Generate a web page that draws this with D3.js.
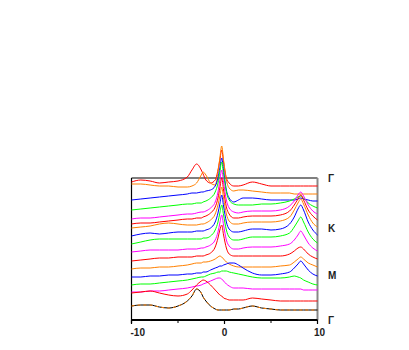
<!DOCTYPE html>
<html>
<head>
<meta charset="utf-8">
<script src="https://cdn.jsdelivr.net/npm/d3@7"></script>
<style>
  body { margin: 0; background: #fff; }
  svg { display: block; font-family: "Liberation Sans", Arial, sans-serif; }
</style>
</head>
<body>
<svg></svg>
<script>
// energy grid shared by every spectrum
const energy = [-10, -9, -8, -7, -6, -5, -4, -3.5, -3, -2.5, -2.3, -2, -1.5, -1, -0.7, -0.5, -0.3, -0.1,
                0.2, 0.5, 1, 1.5, 2, 3, 4, 5, 6, 7, 7.5, 7.9, 8.2, 8.5, 9, 9.5, 10];

// vertical offset of each cut along the path (top = Γ, bottom = Γ)
const offsets = [134, 126, 119, 112, 106, 100, 93, 85, 77, 69, 61, 53, 44, 35, 30, 19, 10];

const colors = ['#ff0000', '#ff8000', '#0000ff', '#00ff00', '#ff00ff',
                '#ff0000', '#ff8000', '#0000ff', '#00ff00', '#ff00ff',
                '#ff0000', '#ff8000', '#0000ff', '#00ff00', '#ff00ff',
                '#ff0000', '#ff8000'];

// intensity of each cut, relative to its offset
const spectra = [
  [4,6,5,3,4,5,9,16,22,16, 12,6,3,6,16,26,36,24,8,3, 0,0,1,4,2,0,0,0,0,0, 0,0,0,0,0],
  [10,10,9,8,8,7,7,8,11,19, 22,19,11,9,22,36,48,34,14,6, 3,4,4,3,2,1,1,1,0,0, 0,0,0,0,0],
  [1,2,3,4,5,6,7,8,8,9, 9,10,11,15,23,33,43,31,11,3, -1,1,3,3,2,1,1,1,1,2, 3,2,1,0,0],
  [-2,-1,0,1,2,3,4,4,5,5, 6,7,10,16,25,36,46,34,16,8, 4,3,3,3,4,4,5,7,9,11, 12,10,5,2,0],
  [-5,-4,-4,-3,-2,-1,0,0,1,2, 2,3,6,12,22,34,44,32,14,6, 2,1,2,3,3,3,4,8,13,19, 22,18,9,3,0],
  [-4,-3,-3,-2,-1,0,1,1,2,2, 3,4,7,13,22,32,42,30,13,6, 2,2,3,4,4,4,5,9,15,21, 25,20,10,4,0],
  [-1,0,1,3,4,3,2,2,2,3, 3,4,7,13,22,31,40,29,13,6, 3,3,4,5,5,5,6,10,17,24, 28,23,12,4,0],
  [-1,1,2,1,2,3,3,3,4,4, 4,5,7,13,22,31,40,29,13,6, 3,3,4,6,6,5,6,11,18,26, 30,25,13,5,0],
  [-1,1,3,4,4,4,4,4,4,4, 5,5,7,13,21,30,38,28,13,6, 3,3,4,6,6,6,7,10,16,22, 26,21,11,4,0],
  [-1,0,1,1,1,1,2,2,2,3, 3,4,6,11,19,28,36,26,11,5, 2,2,3,4,4,4,5,7,11,16, 20,16,8,3,0],
  [-2,-1,0,1,1,2,2,2,3,3, 3,4,6,12,21,29,34,24,11,5, 3,3,3,3,3,3,3,5,8,11, 12,10,5,2,0],
  [-2,-1,-1,0,0,1,2,3,4,4, 5,5,6,8,10,11,10,8,5,3, 1,0,0,0,0,0,1,2,5,8, 10,8,4,2,0],
  [-1,-1,0,0,1,1,2,2,3,3, 4,4,6,8,9,10,10,11,12,13, 13,11,8,3,1,1,2,4,8,12, 15,12,6,2,0],
  [0,1,1,2,3,4,5,6,7,8, 8,9,11,12,13,13,14,14,14,13, 12,11,10,8,7,7,7,8,9,8, 7,5,3,1,0],
  [-2,-2,-1,-1,0,1,2,3,4,5, 6,7,9,11,12,12,11,9,6,4, 2,2,2,1,1,1,1,1,1,1, 1,0,0,0,0],
  [8,9,10,8,6,5,7,11,16,20, 21,20,16,11,8,6,5,3,2,1, 1,1,1,3,2,1,0,0,0,0, 0,0,0,0,0],
  [4,5,5,3,2,4,9,14,21,17, 13,9,4,1,0,0,0,0,0,0, 1,1,2,4,2,1,0,0,0,0, 0,0,0,0,0]
];

const xTicks = [-10, 0, 10];
const xMinorTicks = [-5, 5];
const pathLabels = ['Γ', 'K', 'M', 'Γ'];
const pathLevels = [142, 92, 45, 0];

const size = {w: 409, h: 350};
const svg = d3.select('svg').attr('width', size.w).attr('height', size.h);

const x = d3.scaleLinear().domain([-10, 10]).range([131.5, 317.5]);
const y = d3.scaleLinear().domain([0, 142]).range([320, 178]);

// frame: top black, right grey
svg.append('line')
  .attr('x1', x(-10)).attr('x2', x(10))
  .attr('y1', y(142)).attr('y2', y(142))
  .attr('stroke', '#000').attr('stroke-width', 1.2);
svg.append('line')
  .attr('x1', x(10)).attr('x2', x(10))
  .attr('y1', y(142)).attr('y2', y(0))
  .attr('stroke', '#888').attr('stroke-width', 2);
svg.append('line')
  .attr('x1', x(-10)).attr('x2', x(-10))
  .attr('y1', y(142)).attr('y2', y(0) + 3)
  .attr('stroke', '#000').attr('stroke-width', 1.2);

// spectra
const line = d3.line()
  .x((d, j) => x(energy[j]))
  .y(d => y(d))
  .curve(d3.curveMonotoneX);

const specG = svg.append('g').classed('spectra', true);
spectra.forEach((s, i) => {
  const vals = s.map(v => v + offsets[i]);
  if (i === spectra.length - 1) {
    // last cut is the Γ point again: black with the orange one on top
    specG.append('path')
      .attr('d', line(vals))
      .attr('fill', 'none')
      .attr('stroke', '#000')
      .attr('stroke-width', 1);
    specG.append('path')
      .attr('d', line(vals))
      .attr('fill', 'none')
      .attr('stroke', colors[i])
      .attr('stroke-width', 1)
      .attr('stroke-dasharray', '3,3');
  } else {
    specG.append('path')
      .attr('d', line(vals))
      .attr('fill', 'none')
      .attr('stroke', colors[i])
      .attr('stroke-width', 1);
  }
});

// bottom axis
const axisG = svg.append('g').attr('transform', `translate(0, ${y(0)})`);
axisG.append('line')
  .attr('x1', x(-10)).attr('x2', x(10))
  .attr('stroke', '#000').attr('stroke-width', 2);
axisG.selectAll('.major')
  .data(xTicks).join('line').classed('major', true)
  .attr('x1', d => x(d)).attr('x2', d => x(d))
  .attr('y1', 0).attr('y2', 4)
  .attr('stroke', '#000').attr('stroke-width', 1.2);
axisG.selectAll('.minor')
  .data(xMinorTicks).join('line').classed('minor', true)
  .attr('x1', d => x(d)).attr('x2', d => x(d))
  .attr('y1', 0).attr('y2', 3)
  .attr('stroke', '#000').attr('stroke-width', 1);
axisG.selectAll('text')
  .data(xTicks).join('text')
  .attr('x', (d, i) => i === 0 ? x(d) - 1 : x(d) + (i === 2 ? 2 : 0))
  .attr('y', 16)
  .attr('text-anchor', (d, i) => i === 0 ? 'start' : 'middle')
  .attr('font-size', 10)
  .attr('font-weight', 'bold')
  .attr('fill', '#222')
  .text(d => d);

// high-symmetry labels on the right
svg.selectAll('.sym')
  .data(pathLabels).join('text').classed('sym', true)
  .attr('x', 328)
  .attr('y', (d, i) => y(pathLevels[i]) + 4)
  .attr('font-size', 10)
  .attr('font-weight', 'bold')
  .attr('fill', '#222')
  .text(d => d);
</script>
</body>
</html>
